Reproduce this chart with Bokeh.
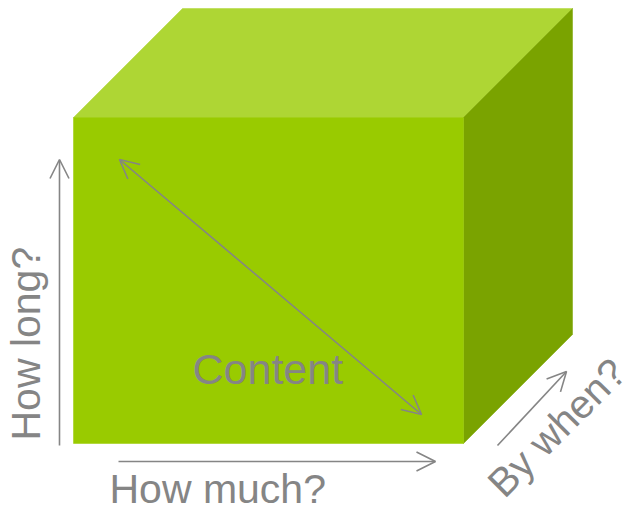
from bokeh.plotting import figure
from bokeh.models import Range1d, Arrow, OpenHead, ColumnDataSource
from bokeh.embed import file_html
from bokeh.resources import INLINE
from bokeh.core.properties import value
import math

# ---- diagram data (in picture pixel coordinates) ----
front_left, front_right = 73, 463
front_top, front_bottom = 117, 443
cube_depth = 109

face_names = ["top", "side", "front"]
face_colors = ["#AED634", "#7AA300", "#99CB00"]

arrow_names = ["How long?", "How much?", "By when?", "Content"]
arrow_x0 = [59, 118, 497, 119]
arrow_y0 = [445, 461, 445, 159]
arrow_x1 = [59, 435, 566, 421]
arrow_y1 = [159, 461, 371, 414]
arrow_double = [False, False, False, True]

label_texts = ["How long?", "How much?", "By when?", "Content"]
label_x = [25, 109, 494, 192]
label_y = [440, 488, 489, 368]
label_angle_deg = [90, 0, 45, 0]
label_size = ["41px", "41px", "40px", "43px"]

GRAY = "#858585"

# ---- build faces from front box + depth ----
d = cube_depth
face_xs = [
    [front_left, front_left + d, front_right + d, front_right],
    [front_right, front_right + d, front_right + d, front_right],
    [front_left, front_right, front_right, front_left],
]
face_ys = [
    [front_top, front_top - d, front_top - d, front_top],
    [front_top, front_top - d, front_bottom - d, front_bottom],
    [front_top, front_top, front_bottom, front_bottom],
]

W, H = 630, 508
p = figure(width=W, height=H,
           x_range=Range1d(0, W), y_range=Range1d(H, 0),
           toolbar_location=None, output_backend="svg", min_border=0)
p.axis.visible = False
p.grid.visible = False
p.outline_line_color = None
p.background_fill_color = "white"
p.border_fill_color = "white"

src = ColumnDataSource(dict(xs=face_xs, ys=face_ys, color=face_colors, name=face_names))
p.patches("xs", "ys", source=src, fill_color="color", line_color="color", line_width=0.5)

for x0, y0, x1, y1, dbl in zip(arrow_x0, arrow_y0, arrow_x1, arrow_y1, arrow_double):
    end = OpenHead(size=19, line_color=GRAY, line_width=1.6)
    kw = {}
    if dbl:
        kw["start"] = OpenHead(size=19, line_color=GRAY, line_width=1.6)
    p.add_layout(Arrow(end=end, x_start=x0, y_start=y0, x_end=x1, y_end=y1,
                       line_color=GRAY, line_width=1.6, **kw))

for t, x, y, a, s in zip(label_texts, label_x, label_y, label_angle_deg, label_size):
    p.text(x=[x], y=[y], text=[t], angle=math.radians(a),
           text_font=value("Liberation Sans"), text_font_size=s,
           text_color=GRAY, text_align="left", text_baseline="alphabetic")

open("out.html", "w").write(file_html(p, INLINE))
